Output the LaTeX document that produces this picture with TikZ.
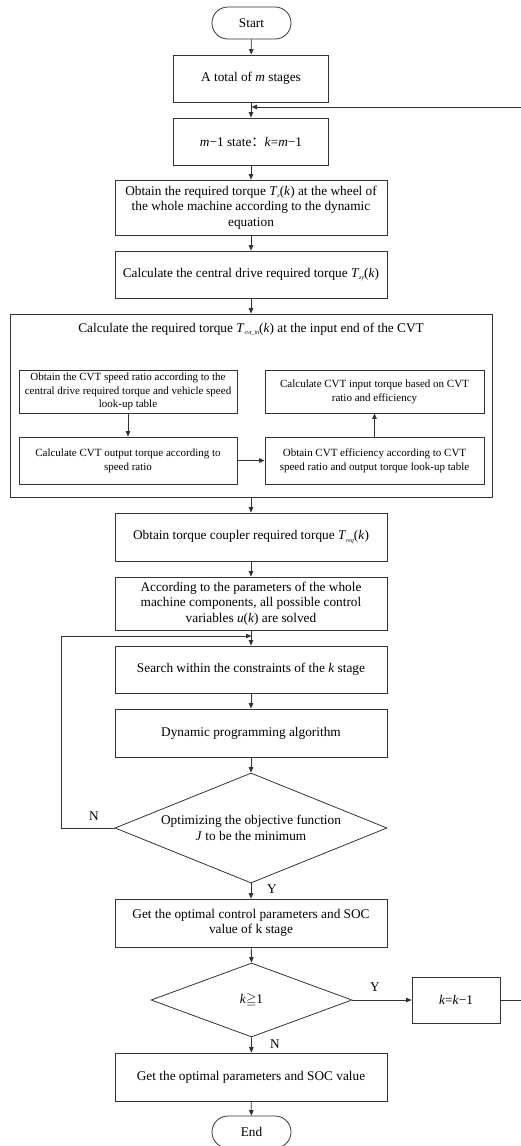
\documentclass[tikz,border=0pt]{standalone}
\usepackage{fontspec}
\setmainfont{Liberation Serif}
\newfontfamily\cjk{Noto Sans CJK SC}
\usepackage{amssymb}
\usetikzlibrary{arrows.meta,shapes.geometric}

% text sizes
\newcommand\bodysize{\fontsize{13.3}{15.5}\selectfont}
\newcommand\innersize{\fontsize{11}{13.8}\selectfont}
% small italic subscript used in torque symbols
\newcommand\tsub[1]{\raisebox{-0.35ex}{\fontsize{6}{6}\selectfont\itshape #1}}

\tikzset{
  line/.style={draw=black!80, line width=0.8pt},
  arr/.style={line, -{Triangle[length=5.5pt,width=4.5pt]}},
  procbox/.style={line, rectangle, inner sep=0pt, align=center, font=\bodysize},
  innerbox/.style={line, rectangle, inner sep=0pt, align=center, font=\innersize},
  terminal/.style={line, rectangle, rounded corners=15.9pt, inner sep=0pt,
    minimum width=79pt, minimum height=32pt, font=\bodysize},
  decision/.style={line, diamond, inner sep=0pt, align=center, font=\bodysize},
  lbl/.style={font=\bodysize, inner sep=0pt}
}

\begin{document}
\begin{tikzpicture}[x=1pt, y=-1pt]
\useasboundingbox (0,0) rectangle (521,1146);
\clip (0,0) rectangle (521,1146);

% main column of steps
\node[terminal] (start) at (251.5,23) {Start};
\node[procbox, minimum width=155pt, minimum height=47pt] (total) at (251,78.5)
  {A total of \textit{m} stages};
\node[procbox, minimum width=155pt, minimum height=47pt] (state) at (251,141.5)
  {\textit{m}−1 state{\cjk ：}\textit{k}=\textit{m}−1};
\node[procbox, minimum width=272pt, minimum height=55pt] (wheel) at (251,207.5)
  {Obtain the required torque \textit{T}\tsub{z}(\textit{k}) at the wheel of\\
   the whole machine according to the dynamic\\ equation};
\node[procbox, minimum width=272pt, minimum height=47pt] (central) at (251,274.5)
  {Calculate the central drive required torque \textit{T}\tsub{zy}(\textit{k})};

% CVT input torque block with its four sub-steps
\node[procbox, minimum width=482pt, minimum height=183pt] (cvt) at (251,405.5) {};
\node[font=\bodysize, inner sep=0pt] (cvttitle) at (251,329)
  {Calculate the required torque \textit{T}\tsub{cvt\_in}(\textit{k}) at the input end of the CVT};
\node[innerbox, minimum width=218pt, minimum height=43pt] (ratio) at (128,391.5)
  {Obtain the CVT speed ratio according to the\\
   central drive required torque and vehicle speed\\ look-up table};
\node[innerbox, minimum width=219pt, minimum height=43pt] (intorque) at (374.5,391.5)
  {Calculate CVT input torque based on CVT\\ ratio and efficiency};
\node[innerbox, minimum width=218pt, minimum height=47pt] (outtorque) at (128,460.5)
  {Calculate CVT output torque according to\\ speed ratio};
\node[innerbox, minimum width=219pt, minimum height=47pt] (eff) at (374.5,460.5)
  {Obtain CVT efficiency according to CVT\\ speed ratio and output torque look-up table};

\node[procbox, minimum width=272pt, minimum height=48pt] (coupler) at (251,537)
  {Obtain torque coupler required torque \textit{T}\tsub{req}(\textit{k})};
\node[procbox, minimum width=272pt, minimum height=53pt] (controls) at (251,603.5)
  {According to the parameters of the whole\\
   machine components, all possible control\\
   variables \textit{u}(\textit{k}) are solved};
\node[procbox, minimum width=272pt, minimum height=47pt] (search) at (251,669.5)
  {Search within the constraints of the \textit{k} stage};
\node[procbox, minimum width=272pt, minimum height=48pt] (dp) at (251,733)
  {Dynamic programming algorithm};
\node[decision, aspect=2.47, minimum width=272pt, minimum height=110pt] (opt) at (251,828)
  {Optimizing the objective function\\ \textit{J} to be the minimum};
\node[procbox, minimum width=272pt, minimum height=48pt] (stageopt) at (251,923)
  {Get the optimal control parameters and SOC\\ value of k stage};
\node[decision, aspect=2.72, minimum width=201pt, minimum height=74pt] (kcheck) at (251.5,1000)
  {\textit{k}$\geqq$1};
\node[procbox, minimum width=88pt, minimum height=46pt] (knext) at (456,1000)
  {\textit{k}=\textit{k}−1};
\node[procbox, minimum width=272pt, minimum height=48pt] (final) at (251,1077)
  {Get the optimal parameters and SOC value};
\node[terminal] (end) at (251.5,1132) {End};

% junctions where the loops re-enter the main column
\coordinate (join1) at (251.5,107);
\coordinate (join2) at (251.5,636);

% main flow
\draw[arr] (start) -- (total);
\draw[arr] (total) -- (state);
\draw[arr] (state) -- (wheel);
\draw[arr] (wheel) -- (central);
\draw[arr] (central) -- (cvt.north -| central);
\draw[arr] (ratio) -- (outtorque);
\draw[arr] (outtorque) -- (eff);
\draw[arr] (eff) -- (intorque);
\draw[arr] (cvt.south -| coupler) -- (coupler);
\draw[arr] (coupler) -- (controls);
\draw[arr] (controls) -- (search);
\draw[arr] (search) -- (dp);
\draw[arr] (dp) -- (opt.north);
\draw[arr] (opt.south) -- (stageopt);
\draw[arr] (stageopt) -- (kcheck.north);
\draw[arr] (kcheck.east) -- (knext);
\draw[arr] (kcheck.south) -- (final);
\draw[arr] (final) -- (end);

% loops back
\draw[arr] (opt.west) -- ++(-53,0) |- (join2);
\draw[arr] (knext.east) -- ++(30,0) |- (join1);

% branch labels
\node[lbl] (optno) at (94,816) {N};
\node[lbl] (optyes) at (272,889) {Y};
\node[lbl] (kyes) at (375,987) {Y};
\node[lbl] (kno) at (275,1044) {N};
\end{tikzpicture}
\end{document}
